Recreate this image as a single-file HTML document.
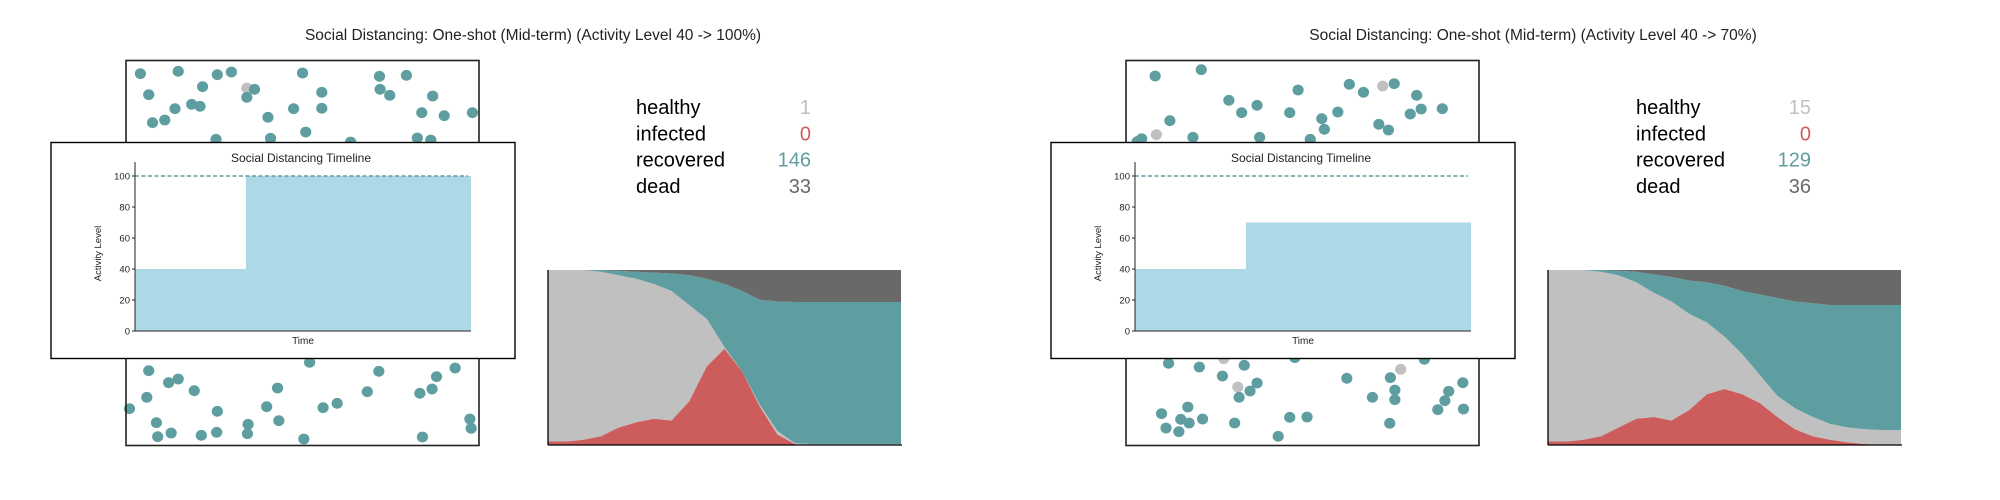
<!DOCTYPE html>
<html><head><meta charset="utf-8"><style>
html,body{margin:0;padding:0;background:#fff;width:2000px;height:500px;overflow:hidden}
svg{display:block}
text{font-family:"Liberation Sans",sans-serif}
</style></head><body>
<svg id="root" width="2000" height="500"></svg>
<script>
// ---- data ----
const panelTitles = ["Social Distancing: One-shot (Mid-term) (Activity Level 40 -> 100%)","Social Distancing: One-shot (Mid-term) (Activity Level 40 -> 70%)"];
const activityBefore = [40, 40];
const activityAfter = [100, 70];
const statLabels = ["healthy","infected","recovered","dead"];
const statValuesA = [1, 0, 146, 33];
const statValuesB = [15, 0, 129, 36];
const yTicks = [0,20,40,60,80,100];
// stacked area (percent of population), 21 samples over time
const infectedA = [2,2,3,5,10,13,15,14,25,45,55,42,22,6,0.5,0,0,0,0,0,0];
const healthyA = [98,98,97,94,87,82,77,74,55,27,1,0,1,2,0.5,0.5,0.5,0.5,0.5,0.5,0.5];
const recoveredA = [0,0,0,1,2.5,4,6.5,10,17,23,36,46,60,74,80.7,81.2,81.2,81.2,81.2,81.2,81.2];
const deadA = [0,0,0,0,0.5,1,1.5,2,3,5,8,12,17,18,18.3,18.3,18.3,18.3,18.3,18.3,18.3];
const infectedB = [2,2,3,5,10,15,16,14,20,29,32,29,24,16,9,5,3,1.5,0.5,0,0];
const healthyB = [98,98,97,94,87,78,71,68,55,41,30,23,16,12,12,11,9,8.5,8.5,8.5,8.5];
const recoveredB = [0,0,0,1,2.5,6,10.5,14,19,23,29,36,46,56,61,65,68,70,71,71.5,71.5];
const deadB = [0,0,0,0,0.5,1,2.5,4,6,7,9,12,14,16,18,19,20,20,20,20,20];
// agent positions (reference-zoom units) and state (1 = healthy/grey)
const dotsA = [[219,221,0],[278,214,0],[339,224,0],[361,216,0],[472,219,0],[592,229,0],[634,226,0],[232,284,0],[316,260,0],[385,264,1],[397,268,0],[385,292,0],[502,277,0],[593,268,0],[608,286,0],[675,288,0],[238,368,0],[257,360,0],[273,326,0],[299,313,0],[312,319,0],[418,352,0],[458,326,0],[502,325,0],[658,338,0],[693,347,0],[737,338,0],[337,418,0],[422,415,0],[477,396,0],[547,426,0],[651,414,0],[672,420,0],
[483,1087,0],[232,1112,0],[263,1148,0],[278,1137,0],[303,1172,0],[433,1164,0],[591,1114,0],[681,1130,0],[710,1104,0],[229,1192,0],[202,1226,0],[339,1234,0],[416,1220,0],[504,1223,0],[526,1210,0],[573,1175,0],[655,1180,0],[674,1167,0],[244,1268,0],[435,1262,0],[387,1273,0],[733,1257,0],[246,1310,0],[267,1299,0],[314,1306,0],[338,1297,0],[386,1301,0],[474,1317,0],[659,1311,0],[735,1285,0]];
const dotsB = [[242,228,0],[314,209,0],[465,270,0],[545,253,0],[567,277,0],[597,258,1],[615,251,0],[650,286,0],[357,301,0],[377,338,0],[401,316,0],[452,338,0],[502,356,0],[527,336,0],[640,342,0],[657,327,0],[690,326,0],[265,362,0],[244,404,1],[221,416,0],[214,425,0],[301,412,0],[405,412,0],[484,418,0],[506,388,0],[591,373,0],[606,390,0],
[349,1076,1],[460,1073,0],[662,1078,0],[263,1090,0],[311,1101,0],[381,1096,0],[625,1108,1],[347,1128,0],[541,1135,0],[609,1133,0],[722,1148,0],[371,1161,1],[401,1149,0],[390,1173,0],[373,1192,0],[616,1170,0],[700,1174,0],[581,1192,0],[616,1199,0],[694,1202,0],[293,1221,0],[252,1241,0],[683,1229,0],[723,1227,0],[282,1258,0],[295,1269,0],[316,1257,0],[366,1269,0],[452,1252,0],[479,1251,0],[608,1270,0],[259,1284,0],[279,1295,0],[434,1309,0]];

const NS="http://www.w3.org/2000/svg";
const root=document.getElementById('root');
function mk(tag,attrs,parent){const e=document.createElementNS(NS,tag);for(const k in attrs)e.setAttribute(k,attrs[k]);(parent||root).appendChild(e);return e;}
const C={teal:"#5f9ea0",red:"#cd5c5c",grey:"#c0c0c0",dark:"#696969",blue:"#add8e6"};

function panel(i,ox,stats,inf,hea,rec,dead,dots){
  const g=mk('g',{transform:`translate(${ox},0)`});
  
  
  const t=mk('text',{x:533,y:40,'text-anchor':'middle','font-size':15.5,fill:'#222'},g);
  t.textContent=panelTitles[i];
  
  
  const sc=mk('g',{},g);
  
  
  const zx=v=>v*1000/1560, zy=v=>v/3;
  dots.forEach(d=>{
    const c=mk('ellipse',{cx:zx(d[0]),cy:zy(d[1]),rx:5.6,ry:5.4,fill:d[2]?C.grey:C.teal},sc);
    
    
  });
  const bx=mk('rect',{x:126,y:60.5,width:353,height:385,fill:'none',stroke:'#222','stroke-width':1.6},sc);
  
  
  const ins=mk('g',{},g);
  
  
  mk('rect',{x:51,y:142.5,width:464,height:216,fill:'#fff',stroke:'#000','stroke-width':1.4},ins);
  const it=mk('text',{x:301,y:162,'text-anchor':'middle','font-size':12,fill:'#222'},ins);
  it.textContent="Social Distancing Timeline";
  
  
  const ax0=135,ax1=471,yb=331,yt=176;
  const ys=v=>yb-(v/100)*(yb-yt);
  const xs=f=>ax0+f*(ax1-ax0);
  const stepX=xs(0.33);
  const a1=mk('rect',{x:ax0,y:ys(activityBefore[i]),width:stepX-ax0,height:yb-ys(activityBefore[i]),fill:C.blue},ins);
  
  
  const a2=mk('rect',{x:stepX,y:ys(activityAfter[i]),width:ax1-stepX,height:yb-ys(activityAfter[i]),fill:C.blue},ins);
  
  
  const dl=mk('line',{x1:ax0,x2:468,y1:ys(100),y2:ys(100),stroke:C.teal,'stroke-width':1.5,'stroke-dasharray':'4,2.5'},ins);
  
  
  mk('line',{x1:ax0,x2:ax0,y1:162,y2:yb,stroke:'#222','stroke-width':1},ins);
  mk('line',{x1:ax0,x2:ax1,y1:yb,y2:yb,stroke:'#222','stroke-width':1},ins);
  yTicks.forEach(v=>{
    mk('line',{x1:ax0-3,x2:ax0,y1:ys(v),y2:ys(v),stroke:'#222'},ins);
    const tl=mk('text',{x:ax0-5,y:ys(v)+3.5,'text-anchor':'end','font-size':9.5,fill:'#222'},ins);
    tl.textContent=v;
    
    
  });
  const yl=mk('text',{x:0,y:0,'text-anchor':'middle','font-size':9.5,fill:'#222',transform:`translate(101,${(yb+yt)/2}) rotate(-90)`},ins);
  yl.textContent="Activity Level";
  
  
  const xl=mk('text',{x:303,y:344,'text-anchor':'middle','font-size':10,fill:'#222'},ins);
  xl.textContent="Time";
  
  
  const vcol=[C.grey,C.red,C.teal,C.dark];
  statLabels.forEach((s,k)=>{
    const y=114+k*26.3;
    const l=mk('text',{x:636,y:y,'font-size':20,fill:'#000'},g);
    l.textContent=s;
    
    
    const v=mk('text',{x:811,y:y,'text-anchor':'end','font-size':20,fill:vcol[k]},g);
    v.textContent=stats[k];
    
    
  });
  const sa=mk('g',{},g);
  
  
  const X0=548,X1=901,Y0=445,Y1=270,n=inf.length;
  const px=k=>X0+k/(n-1)*(X1-X0);
  const py=v=>Y0-v/100*(Y0-Y1);
  const layers=[[inf,C.red,'infected-area'],[hea,C.grey,'healthy-area'],[rec,C.teal,'recovered-area'],[dead,C.dark,'dead-area']];
  const base=new Array(n).fill(0);
  layers.forEach(([arr,col,name])=>{
    const tot=k=>inf[k]+hea[k]+rec[k]+dead[k];
    const lo=base.map((b,k)=>b/tot(k)*100);
    const hi=base.map((b,k)=>(b+arr[k])/tot(k)*100);
    let d='';
    for(let k=0;k<n;k++)d+=(k?'L':'M')+px(k)+','+py(hi[k]);
    for(let k=n-1;k>=0;k--)d+='L'+px(k)+','+py(lo[k]);
    const p=mk('path',{d:d+'Z',fill:col},sa);
    
    
    for(let k=0;k<n;k++)base[k]+=arr[k];
  });
  mk('line',{x1:X0,x2:X0,y1:Y1,y2:Y0,stroke:'#000','stroke-width':1.3},sa);
  mk('line',{x1:X0,x2:X1+1,y1:Y0,y2:Y0,stroke:'#000','stroke-width':1.3},sa);
}
panel(0,0,statValuesA,infectedA,healthyA,recoveredA,deadA,dotsA);
panel(1,1000,statValuesB,infectedB,healthyB,recoveredB,deadB,dotsB);
</script>
</body></html>
